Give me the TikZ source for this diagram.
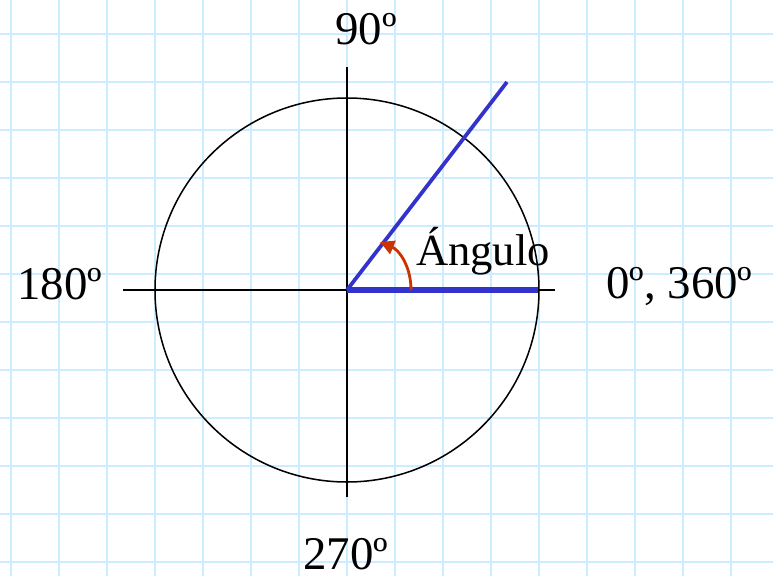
\documentclass[tikz,border=0pt]{standalone}
\usepackage{fontspec}
\setmainfont{Liberation Serif}
\usepackage{xcolor}
\usetikzlibrary{arrows.meta,calc}

\definecolor{gridblue}{RGB}{204,236,255}
\definecolor{rayblue}{RGB}{51,51,204}
\definecolor{arcred}{RGB}{204,51,0}

\begin{document}
\begin{tikzpicture}[
    x=0.03cm, y=0.03cm,
    gridline/.style={draw=gridblue, line width=1.4pt},
    axis/.style={draw=black, line width=1.3pt},
    ray/.style={draw=rayblue, line width=3.2pt},
    baseray/.style={draw=rayblue, line width=4.8pt},
    angarrow/.style={draw=arcred, line width=2.4pt,
                     -{Triangle[length=12pt, width=12pt]}},
    lbl/.style={anchor=base west, inner sep=0pt,
                font=\fontsize{40}{48}\selectfont},
  ]

  % ── Frame + squared paper ──
  \useasboundingbox (-347,-286) rectangle (426,290);
  \fill[white] (-347,-286) rectangle (426,290);
  \foreach \gx in {-336,-288,...,384}
    \draw[gridline] (\gx,-286) -- (\gx,290);
  \foreach \gy in {-272,-224,...,256}
    \draw[gridline] (-347,\gy) -- (426,\gy);

  % ── Key points ──
  \coordinate (O) at (0,0);
  \coordinate (axL) at (-224,0);
  \coordinate (axR) at (208,0);
  \coordinate (axT) at (0,223);
  \coordinate (axB) at (0,-207);
  \coordinate (rayE) at (191,0);
  \coordinate (rayP) at (160,208);
  \coordinate (arcS) at (64,0);
  \coordinate (arcE) at (33,48);

  % ── Circle and axes ──
  \draw[axis] (O) circle[radius=192];
  \draw[axis] (axL) -- (axR);
  \draw[axis] (axB) -- (axT);

  % ── The two sides of the angle ──
  \draw[baseray] (O) -- (rayE);
  \draw[ray] (O) -- (rayP);

  % ── Angle arrow ──
  \draw[angarrow] (arcS) .. controls (64,24) and (52,40) .. (arcE);

  % ── Labels ──
  \node[lbl] at (-12,246) (l90) {90º};
  \node[lbl] at (-330,-9) (l180) {180º};
  \node[lbl] at (259,-8) (l0) {0º, 360º};
  \node[lbl] at (-44,-279) (l270) {270º};
  \node[lbl, font=\fontsize{38}{46}\selectfont] at (69,25) (lang)
    {Ángulo};

\end{tikzpicture}
\end{document}
